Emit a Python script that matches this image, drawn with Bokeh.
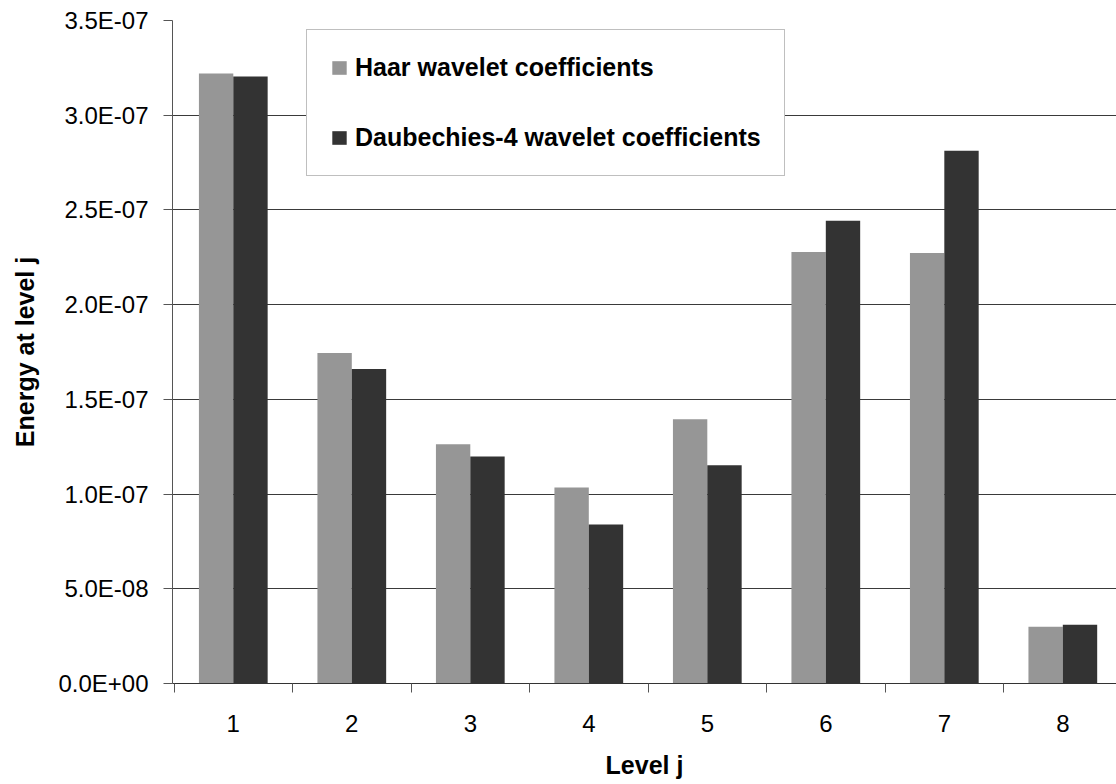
from bokeh.plotting import figure
from bokeh.models import (ColumnDataSource, FixedTicker, CustomJSTickFormatter,
                          Legend, LegendItem, Range1d)
from bokeh.embed import file_html
from bokeh.resources import INLINE

# Energy per decomposition level
levels = [1, 2, 3, 4, 5, 6, 7, 8]
level_labels = ["1", "2", "3", "4", "5", "6", "7", "8"]
haar = [3.22e-7, 1.745e-7, 1.263e-7, 1.035e-7, 1.395e-7, 2.278e-7, 2.273e-7, 0.300e-7]
daub4 = [3.205e-7, 1.660e-7, 1.199e-7, 0.840e-7, 1.152e-7, 2.443e-7, 2.813e-7, 0.310e-7]
y_ticks = [0.0, 5e-8, 1e-7, 1.5e-7, 2e-7, 2.5e-7, 3e-7, 3.5e-7]
series_names = ["Haar wavelet coefficients", "Daubechies-4 wavelet coefficients"]

HAAR_COLOR = "#969696"
DAUB_COLOR = "#333333"
FONT = "Liberation Sans"
BAR_W = 0.29

src = ColumnDataSource(dict(
    x_haar=[v - BAR_W / 2 for v in levels],
    x_daub=[v + BAR_W / 2 for v in levels],
    haar=haar,
    daub=daub4,
))

p = figure(width=1116, height=784, output_backend="svg", toolbar_location=None,
           x_range=Range1d(0.487, 8.453), y_range=Range1d(0, 3.5e-7),
           min_border_left=172, min_border_right=0, min_border_top=20,
           min_border_bottom=101)
p.outline_line_color = None
p.background_fill_color = "white"

# Horizontal grid only
p.xgrid.grid_line_color = None
p.ygrid.grid_line_color = "#3a3a3a"
p.ygrid.grid_line_width = 1
p.ygrid.ticker = FixedTicker(ticks=y_ticks)

r_haar = p.vbar(x="x_haar", top="haar", width=BAR_W, source=src,
                fill_color=HAAR_COLOR, line_color=None)
r_daub = p.vbar(x="x_daub", top="daub", width=BAR_W, source=src,
                fill_color=DAUB_COLOR, line_color=None)

# Y axis
yax = p.yaxis[0]
yax.ticker = FixedTicker(ticks=y_ticks)
yax.formatter = CustomJSTickFormatter(code="""
    const s = tick.toExponential(1).split('e');
    let e = s[1];
    const sign = e[0] === '-' ? '-' : '+';
    e = e.replace('-', '').replace('+', '');
    if (e.length < 2) { e = '0' + e; }
    return s[0] + 'E' + sign + e;
""")
yax.axis_line_color = "#555555"
yax.major_tick_line_color = "#555555"
yax.major_tick_in = 0
yax.major_tick_out = 9
yax.minor_tick_line_color = None
yax.major_label_standoff = 15
yax.major_label_text_font = FONT
yax.major_label_text_font_size = "24px"
yax.major_label_text_color = "black"
yax.axis_label = "Energy at level j"
yax.axis_label_text_font = FONT
yax.axis_label_text_font_size = "25px"
yax.axis_label_text_font_style = "bold"
yax.axis_label_text_color = "black"
yax.axis_label_standoff = 16

# X axis: labels at level centres, tick marks at category boundaries
xax = p.xaxis[0]
xax.ticker = FixedTicker(ticks=levels, minor_ticks=[v + 0.5 for v in [0] + levels])
xax.major_label_overrides = {v: s for v, s in zip(levels, level_labels)}
xax.axis_line_color = "#333333"
xax.major_tick_line_color = None
xax.major_tick_in = 0
xax.major_tick_out = 0
xax.minor_tick_line_color = "#555555"
xax.minor_tick_in = 0
xax.minor_tick_out = 9
xax.major_label_standoff = 22
xax.major_label_text_font = FONT
xax.major_label_text_font_size = "24px"
xax.major_label_text_color = "black"
xax.axis_label = "Level j"
xax.axis_label_text_font = FONT
xax.axis_label_text_font_size = "25px"
xax.axis_label_text_font_style = "bold"
xax.axis_label_text_color = "black"
xax.axis_label_standoff = 16

legend = Legend(items=[LegendItem(label=series_names[0], renderers=[r_haar]),
                       LegendItem(label=series_names[1], renderers=[r_daub])],
                location=(134, 507))
legend.label_text_font = FONT
legend.label_text_font_size = "25px"
legend.label_text_font_style = "bold"
legend.label_text_color = "black"
legend.glyph_width = 18
legend.glyph_height = 17
legend.label_standoff = 7
legend.padding = 23
legend.spacing = 41
legend.margin = 0
legend.border_line_color = "#808080"
legend.border_line_width = 1
legend.background_fill_color = "white"
legend.background_fill_alpha = 1
p.add_layout(legend, "center")

open("out.html", "w").write(file_html(p, INLINE))
